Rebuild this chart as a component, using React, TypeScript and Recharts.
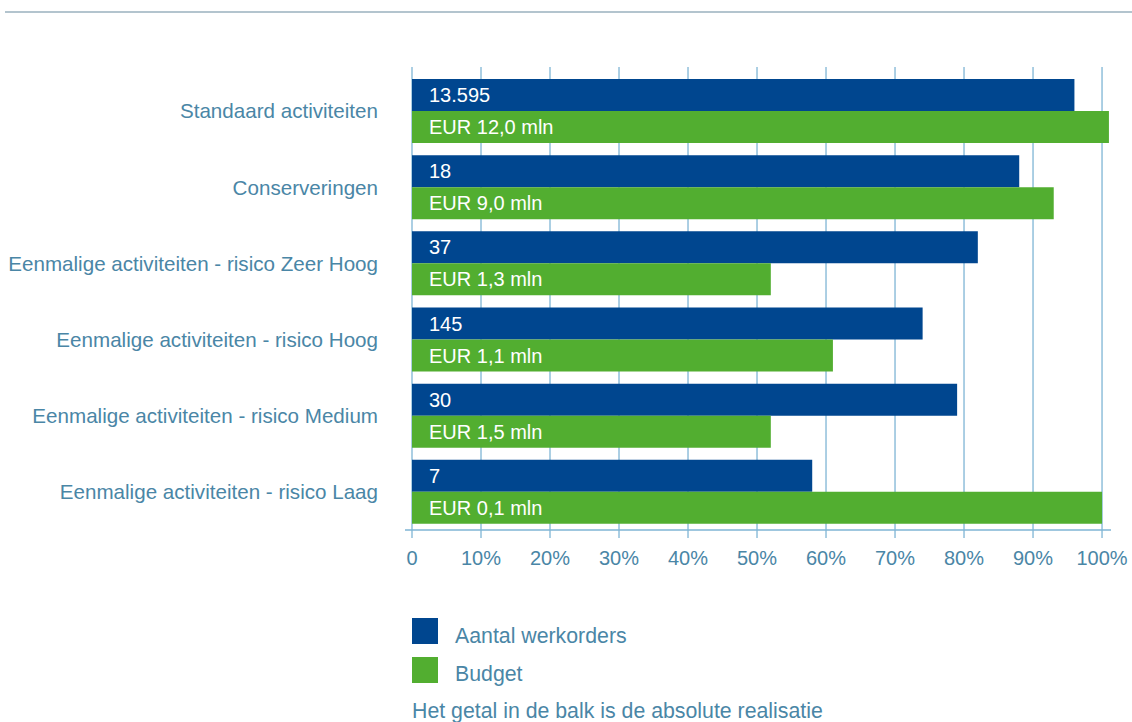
import React from 'react';
import { BarChart, Bar, XAxis, YAxis, CartesianGrid, LabelList } from 'recharts';

const categories = [
  'Standaard activiteiten',
  'Conserveringen',
  'Eenmalige activiteiten - risico Zeer Hoog',
  'Eenmalige activiteiten - risico Hoog',
  'Eenmalige activiteiten - risico Medium',
  'Eenmalige activiteiten - risico Laag',
];
const werkordersPct = [96, 88, 82, 74, 79, 58];
const budgetPct = [101, 93, 52, 61, 52, 100];
const werkordersLabels = ['13.595', '18', '37', '145', '30', '7'];
const budgetLabels = ['EUR 12,0 mln', 'EUR 9,0 mln', 'EUR 1,3 mln', 'EUR 1,1 mln', 'EUR 1,5 mln', 'EUR 0,1 mln'];
const xTicks = [0, 10, 20, 30, 40, 50, 60, 70, 80, 90, 100];

const data = categories.map((name, i) => ({
  name,
  werkorders: werkordersPct[i],
  budget: budgetPct[i],
  werkordersLabel: werkordersLabels[i],
  budgetLabel: budgetLabels[i],
}));

const BLUE = '#00468f';
const GREEN = '#52ae30';
const GRID = '#7fb5d5';
const TEXT = '#4a86a6';
const FONT = '"Liberation Sans", Arial, Helvetica, sans-serif';

export default function App() {
  return (
    <div style={{ position: 'absolute', left: 0, top: 0, width: 1132, height: 722, background: '#fff', fontFamily: FONT, overflow: 'hidden' }}>
      <div style={{ position: 'absolute', left: 5, top: 11, width: 1127, height: 2, background: '#b3c4ce' }} />
      <BarChart
        width={1132}
        height={600}
        data={data}
        layout="vertical"
        margin={{ top: 67, right: 21, bottom: 20, left: 0 }}
        barGap={0}
        barSize={32}
      >
        <CartesianGrid horizontal={false} vertical={true} syncWithTicks={true} stroke={GRID} strokeWidth={1.3} />
        <XAxis
          type="number"
          domain={[0, 101.3]}
          ticks={xTicks}
          padding={{ left: 7, right: 0 }}
          height={50}
          tickSize={8}
          tickMargin={13}
          axisLine={{ stroke: GRID, strokeWidth: 1.5 }}
          tickLine={{ stroke: GRID, strokeWidth: 1.3 }}
          tick={{ fill: TEXT, fontSize: 20, fontFamily: FONT }}
          tickFormatter={(v: number) => (v === 0 ? '0' : `${v}%`)}
          allowDataOverflow={true}
        />
        <YAxis
          type="category"
          dataKey="name"
          width={405}
          padding={{ top: 6, bottom: 0 }}
          axisLine={false}
          tickLine={false}
          tickSize={0}
          tickMargin={27}
          tick={{ fill: TEXT, fontSize: 20.6, fontFamily: FONT }}
        />
        <Bar dataKey="werkorders" fill={BLUE} isAnimationActive={false}>
          <LabelList dataKey="werkordersLabel" position="insideLeft" offset={17} fill="#ffffff" fontSize={20} fontFamily={FONT} />
        </Bar>
        <Bar dataKey="budget" fill={GREEN} isAnimationActive={false}>
          <LabelList dataKey="budgetLabel" position="insideLeft" offset={17} fill="#ffffff" fontSize={20} fontFamily={FONT} />
        </Bar>
      </BarChart>
      <div style={{ position: 'absolute', left: 412, top: 618, width: 26, height: 26, background: BLUE }} />
      <div style={{ position: 'absolute', left: 455, top: 623, color: TEXT, fontSize: 21.3, lineHeight: '26px', whiteSpace: 'nowrap' }}>Aantal werkorders</div>
      <div style={{ position: 'absolute', left: 412, top: 657, width: 26, height: 26, background: GREEN }} />
      <div style={{ position: 'absolute', left: 455, top: 661, color: TEXT, fontSize: 21.3, lineHeight: '26px', whiteSpace: 'nowrap' }}>Budget</div>
      <div style={{ position: 'absolute', left: 412, top: 698, color: TEXT, fontSize: 21.3, lineHeight: '26px', whiteSpace: 'nowrap' }}>Het getal in de balk is de absolute realisatie</div>
    </div>
  );
}
